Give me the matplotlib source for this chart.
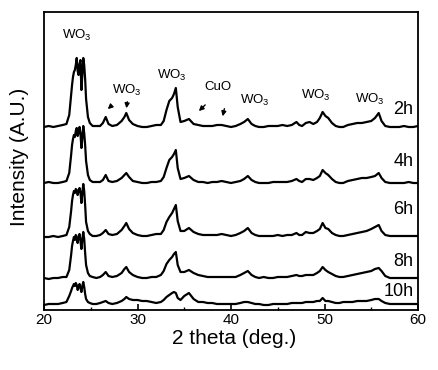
import matplotlib
matplotlib.use("Agg")
import matplotlib.pyplot as plt
from matplotlib.ticker import MultipleLocator

plt.rcParams["font.family"] = ["Liberation Sans", "DejaVu Sans"]
plt.rcParams["mathtext.fontset"] = "custom"
plt.rcParams["mathtext.rm"] = "Liberation Sans"

# 2 theta grid (deg.)
two_theta = [
    20.0, 20.5, 21.0, 21.5, 22.0, 22.4, 22.7, 22.9, 23.0, 23.1,
    23.2, 23.3, 23.4, 23.5, 23.6, 23.7, 23.8, 23.9, 24.0, 24.1,
    24.2, 24.3, 24.4, 24.5, 24.7, 24.9, 25.2, 25.6, 26.0, 26.3,
    26.6, 26.9, 27.3, 27.8, 28.3, 28.6, 28.8, 29.1, 29.5, 30.0,
    30.5, 31.0, 31.5, 32.0, 32.5, 32.8, 33.1, 33.4, 33.7, 33.9,
    34.1, 34.3, 34.6, 35.0, 35.5, 36.0, 36.5, 37.0, 37.5, 38.0,
    38.5, 39.0, 39.5, 40.0, 40.5, 41.0, 41.4, 41.8, 42.2, 42.6,
    43.0, 43.5, 44.0, 44.5, 45.0, 45.5, 46.0, 46.5, 47.0, 47.3,
    47.6, 48.0, 48.4, 48.8, 49.2, 49.5, 49.8, 50.1, 50.4, 50.8,
    51.2, 51.6, 52.0, 52.5, 53.0, 53.5, 54.0, 54.5, 55.0, 55.4,
    55.8, 56.1, 56.5, 57.0, 57.5, 58.0, 58.5, 59.0, 59.5, 60.0,
]

# intensity above each pattern's own baseline (a.u.)
i_2h = [
    0, 1, 0, 1, 2, 3, 12, 32, 42, 50,
    55, 57, 62, 69, 56, 52, 63, 67, 37, 52,
    69, 62, 48, 28, 10, 4, 1, 1, 1, 4,
    10, 3, 1, 2, 6, 10, 14, 7, 3, 1,
    0, 0, 1, 2, 2, 6, 17, 26, 29, 33,
    39, 20, 5, 6, 8, 3, 2, 1, 1, 1,
    2, 2, 1, 0, 1, 3, 5, 8, 3, 1,
    0, 0, 1, 1, 1, 2, 1, 2, 5, 2,
    1, 4, 5, 3, 5, 9, 15, 11, 9, 4,
    1, 0, 0, 2, 3, 4, 4, 5, 6, 9,
    14, 6, 1, 0, 0, 0, 1, 0, 0, 1,
]
i_4h = [
    0, 1, 0, 0, 1, 2, 10, 28, 38, 44,
    48, 46, 52, 55, 47, 50, 56, 50, 35, 45,
    57, 50, 38, 22, 8, 3, 1, 1, 1, 3,
    8, 2, 1, 2, 5, 8, 10, 6, 2, 1,
    0, 0, 1, 1, 2, 6, 15, 23, 26, 29,
    33, 15, 4, 5, 7, 3, 1, 1, 0, 1,
    1, 2, 1, 0, 1, 2, 4, 7, 3, 1,
    0, 0, 0, 1, 1, 1, 1, 2, 4, 2,
    1, 4, 4, 3, 5, 7, 13, 10, 8, 4,
    1, 0, 0, 2, 3, 4, 5, 5, 6, 7,
    10, 5, 1, 0, 0, 0, 0, 1, 0, 0,
]
i_6h = [
    0, 0, 1, 0, 1, 2, 10, 26, 36, 42,
    46, 44, 48, 47, 42, 46, 49, 45, 34, 44,
    53, 46, 32, 15, 6, 3, 1, 1, 2, 4,
    7, 3, 2, 3, 7, 11, 14, 8, 4, 2,
    1, 1, 2, 3, 3, 7, 15, 20, 24, 28,
    32, 16, 6, 6, 9, 5, 3, 2, 2, 2,
    2, 3, 2, 1, 2, 4, 6, 9, 4, 2,
    1, 1, 1, 1, 2, 1, 2, 2, 4, 2,
    2, 5, 4, 4, 6, 8, 14, 9, 8, 4,
    2, 1, 1, 2, 3, 4, 5, 6, 8, 10,
    12, 6, 2, 1, 1, 1, 1, 1, 1, 1,
]
i_8h = [
    1, 0, 1, 1, 2, 2, 9, 24, 33, 38,
    42, 39, 44, 40, 36, 43, 45, 38, 30, 40,
    47, 40, 26, 14, 6, 3, 2, 1, 2, 4,
    7, 3, 2, 3, 6, 10, 12, 7, 4, 2,
    1, 1, 2, 2, 4, 8, 15, 19, 22, 25,
    27, 14, 7, 7, 9, 6, 4, 3, 2, 2,
    2, 2, 2, 2, 2, 4, 6, 8, 4, 2,
    1, 2, 1, 1, 2, 2, 2, 3, 4, 3,
    3, 4, 4, 4, 6, 8, 12, 9, 7, 5,
    3, 2, 2, 3, 4, 5, 6, 7, 8, 10,
    11, 8, 3, 1, 1, 1, 1, 1, 1, 1,
]
i_10h = [
    0, 1, 1, 1, 2, 3, 9, 14, 17, 19,
    21, 19, 22, 20, 15, 18, 21, 17, 13, 19,
    23, 18, 11, 6, 3, 2, 1, 1, 2, 3,
    4, 2, 1, 2, 4, 6, 8, 6, 5, 5,
    4, 4, 3, 2, 3, 5, 8, 10, 12, 13,
    12, 7, 5, 9, 12, 6, 3, 3, 2, 2,
    1, 1, 1, 1, 1, 2, 3, 3, 2, 1,
    1, 0, 0, 1, 1, 1, 1, 2, 2, 2,
    2, 3, 3, 3, 4, 4, 7, 4, 4, 3,
    2, 2, 3, 3, 3, 4, 4, 4, 5, 6,
    6, 4, 2, 1, 1, 1, 1, 1, 1, 1,
]

series = [i_2h, i_4h, i_6h, i_8h, i_10h]
labels = ["2h", "4h", "6h", "8h", "10h"]
offsets = [183, 127, 73, 31, 5]
label_y = [200, 148, 100, 48, 18]

WO3 = r"$\mathregular{WO_3}$"

fig = plt.figure(figsize=(4.38, 3.70), dpi=100)
ax = fig.add_axes([44 / 438, 60 / 370, 374 / 438, 298 / 370])

for vals, off, lab, ly in zip(series, offsets, labels, label_y):
    ax.plot(two_theta, [v + off for v in vals], color="black", lw=1.6)
    ax.text(59.5, ly, lab, ha="right", va="center", fontsize=13)

# phase labels
ax.text(23.5, 275, WO3, ha="center", va="center", fontsize=9.5)
ax.text(28.9, 220, WO3, ha="center", va="center", fontsize=9.5)
ax.text(33.7, 235, WO3, ha="center", va="center", fontsize=9.5)
ax.text(38.6, 223, "CuO", ha="center", va="center", fontsize=9.5)
ax.text(42.5, 210, WO3, ha="center", va="center", fontsize=9.5)
ax.text(49.1, 215, WO3, ha="center", va="center", fontsize=9.5)
ax.text(54.9, 211, WO3, ha="center", va="center", fontsize=9.5)

arr = dict(arrowstyle="-|>", color="black", lw=1.0, mutation_scale=7)
ax.annotate("", xy=(26.6, 199), xytext=(27.3, 205), arrowprops=arr)
ax.annotate("", xy=(28.77, 199), xytext=(28.95, 211), arrowprops=arr)
ax.annotate("", xy=(36.35, 197), xytext=(37.45, 207), arrowprops=arr)
ax.annotate("", xy=(39.04, 191), xytext=(39.36, 204), arrowprops=arr)

ax.set_xlim(20, 60)
ax.set_ylim(0, 298)
ax.set_yticks([])
ax.xaxis.set_major_locator(MultipleLocator(10))
ax.xaxis.set_minor_locator(MultipleLocator(5))
ax.tick_params(axis="x", which="major", direction="in", length=4, width=1.2,
               labelsize=11, pad=2, top=False)
ax.tick_params(axis="x", which="minor", direction="in", length=2.5, width=1.0, top=False)
for s in ax.spines.values():
    s.set_linewidth(1.3)

ax.set_xlabel("2 theta (deg.)", fontsize=15)
ax.xaxis.set_label_coords(0.508, -0.064)
ax.xaxis.label.set_va("top")
ax.set_ylabel("Intensity (A.U.)", fontsize=15)
ax.yaxis.set_label_coords(-0.04, 0.515)

fig.savefig("out.png", dpi=100)
